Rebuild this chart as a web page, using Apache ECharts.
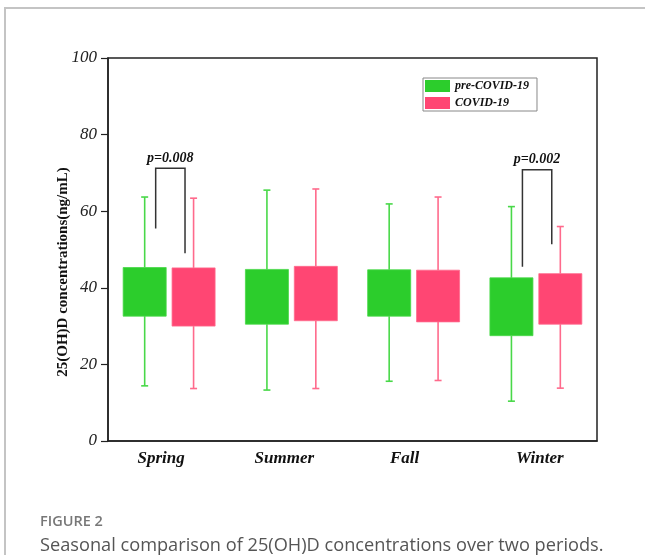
<!DOCTYPE html>
<html><head><meta charset="utf-8">
<script src="https://cdn.jsdelivr.net/npm/echarts@6/dist/echarts.min.js"></script>
<style>html,body{margin:0;padding:0;background:#fff}#c{width:645px;height:555px}</style>
</head><body><div id="c"></div>
<script>
// ---- data ----
const seasons = ['Spring', 'Summer', 'Fall', 'Winter'];
const seriesNames = ['pre-COVID-19', 'COVID-19'];
// [min, Q1, Q3, max] per season
const preCovidStats = [
  [14.4, 32.6, 45.3, 63.7],
  [13.3, 30.5, 44.8, 65.5],
  [15.6, 32.6, 44.7, 61.9],
  [10.4, 27.5, 42.6, 61.2]
];
const covidStats = [
  [13.7, 30.0, 45.2, 63.4],
  [13.7, 31.4, 45.6, 65.8],
  [15.8, 31.1, 44.6, 63.7],
  [13.8, 30.5, 43.7, 56.0]
];
const yTicks = [0, 20, 40, 60, 80, 100];
// significance brackets: [seasonIndex, top, leftBottom, rightBottom]
const brackets = [[0, 71.2, 55.5, 49.0], [3, 70.8, 45.5, 51.4]];
const pLabels = ['p=0.008', 'p=0.002'];

const SERIF = '"Liberation Serif", "Times New Roman", serif';
const chart = echarts.init(document.getElementById('c'), null, {renderer: 'canvas'});

function boxRenderer(offsetFrac, fill, stroke) {
  return function (params, api) {
    const cat = api.value(0);
    const bw = api.size([1, 0])[0];
    const cx = api.coord([cat, 0])[0] + bw * offsetFrac;
    const yMin = api.coord([cat, api.value(1)])[1];
    const yQ1 = api.coord([cat, api.value(2)])[1];
    const yQ3 = api.coord([cat, api.value(3)])[1];
    const yMax = api.coord([cat, api.value(4)])[1];
    const hw = bw * 0.176;
    const cap = 3.5;
    const ls = {stroke: stroke, lineWidth: 1.6};
    return {type: 'group', children: [
      {type: 'line', shape: {x1: cx, y1: yMax, x2: cx, y2: yQ3}, style: ls},
      {type: 'line', shape: {x1: cx, y1: yQ1, x2: cx, y2: yMin}, style: ls},
      {type: 'line', shape: {x1: cx - cap, y1: yMax, x2: cx + cap, y2: yMax}, style: ls},
      {type: 'line', shape: {x1: cx - cap, y1: yMin, x2: cx + cap, y2: yMin}, style: ls},
      {type: 'rect', shape: {x: cx - hw, y: yQ3, width: hw * 2, height: yQ1 - yQ3},
        style: {fill: fill, stroke: stroke, lineWidth: 0.8}}
    ]};
  };
}

function toData(stats) {
  return stats.map((s, i) => [i].concat(s));
}

const bracketSeries = {
  type: 'custom',
  silent: true,
  data: brackets.map((b, i) => ({value: b, name: pLabels[i]})),
  encode: {x: 0, y: [1, 2, 3]},
  renderItem: function (params, api) {
    const cat = api.value(0);
    const bw = api.size([1, 0])[0];
    const cx = api.coord([cat, 0])[0];
    const yTop = api.coord([cat, api.value(1)])[1];
    const yL = api.coord([cat, api.value(2)])[1];
    const yR = api.coord([cat, api.value(3)])[1];
    const xl = cx - bw * 0.11, xr = cx + bw * 0.13;
    return {type: 'group', children: [
      {type: 'polyline', shape: {points: [[xl, yL], [xl, yTop], [xr, yTop], [xr, yR]]},
        style: {stroke: '#333', lineWidth: 1.5, fill: null}},
      {type: 'text', style: {text: pLabels[params.dataIndex], x: (xl + xr) / 2, y: yTop - 3,
        align: 'center', verticalAlign: 'bottom', fill: '#111',
        font: 'italic bold 14px ' + SERIF}}
    ]};
  }
};

// small horizontal nudges of the category labels (px, positive = left)
const labelNudge = [16, 14, 18, -8];
const labelRich = {};
seasons.forEach((s, i) => {
  const n = labelNudge[i];
  labelRich['c' + i] = {
    fontFamily: SERIF, fontStyle: 'italic', fontWeight: 'bold', fontSize: 17, color: '#111',
    padding: n >= 0 ? [0, n, 0, 0] : [0, 0, 0, -n]
  };
});

const option = {
  animation: false,
  backgroundColor: '#fff',
  grid: {left: 108, right: 48, top: 58, bottom: 114, show: true, borderColor: '#222', borderWidth: 1.5},
  legend: {
    data: seriesNames,
    orient: 'vertical', left: 423, top: 78,
    itemWidth: 25, itemHeight: 12, itemGap: 5,
    icon: 'rect',
    borderColor: '#888', borderWidth: 1, borderRadius: 0,
    padding: [2, 8, 2, 2],
    textStyle: {fontFamily: SERIF, fontStyle: 'italic', fontWeight: 'bold', fontSize: 12, color: '#111'}
  },
  xAxis: {
    type: 'category', data: seasons,
    axisLine: {lineStyle: {color: '#222', width: 1.5}},
    axisTick: {show: false},
    axisLabel: {margin: 9, formatter: (v, i) => '{c' + i + '|' + v + '}', rich: labelRich},
    splitLine: {show: false}
  },
  yAxis: {
    type: 'value', min: yTicks[0], max: yTicks[yTicks.length - 1], interval: 20,
    axisLine: {show: true, lineStyle: {color: '#222', width: 1.5}},
    axisTick: {show: true, length: 7, lineStyle: {color: '#222', width: 1.2}},
    axisLabel: {margin: 11, formatter: '{i|{value}}',
      rich: {i: {fontFamily: SERIF, fontStyle: 'italic', fontSize: 17, color: '#222'}}},
    splitLine: {show: false}
  },
  graphic: [
    {type: 'rect', silent: true, shape: {x: 5, y: 8, width: 700, height: 600},
      style: {fill: null, stroke: '#c4c4c4', lineWidth: 2}},
    {type: 'text', silent: true, x: 63, y: 272, rotation: Math.PI / 2,
      style: {text: '25(OH)D concentrations(ng/mL)', align: 'center', verticalAlign: 'middle',
        font: 'bold 15px ' + SERIF, fill: '#111'}},
    {type: 'text', silent: true, left: 40, top: 514,
      style: {text: 'FIGURE 2', font: '600 14.5px "Open Sans", sans-serif', fill: '#777'}},
    {type: 'text', silent: true, left: 40, top: 537,
      style: {text: 'Seasonal comparison of 25(OH)D concentrations over two periods.',
        font: '18.2px "Open Sans", sans-serif', fill: '#555'}}
  ],
  series: [
    {name: seriesNames[0], type: 'custom', data: toData(preCovidStats),
      encode: {x: 0, y: [1, 2, 3, 4]}, itemStyle: {color: '#2ccd2c'},
      renderItem: boxRenderer(-0.2, '#2ccd2c', '#48d848')},
    {name: seriesNames[1], type: 'custom', data: toData(covidStats),
      encode: {x: 0, y: [1, 2, 3, 4]}, itemStyle: {color: '#ff4673'},
      renderItem: boxRenderer(0.2, '#ff4673', '#ff6a8c')},
    bracketSeries
  ]
};
chart.setOption(option);
</script></body></html>
